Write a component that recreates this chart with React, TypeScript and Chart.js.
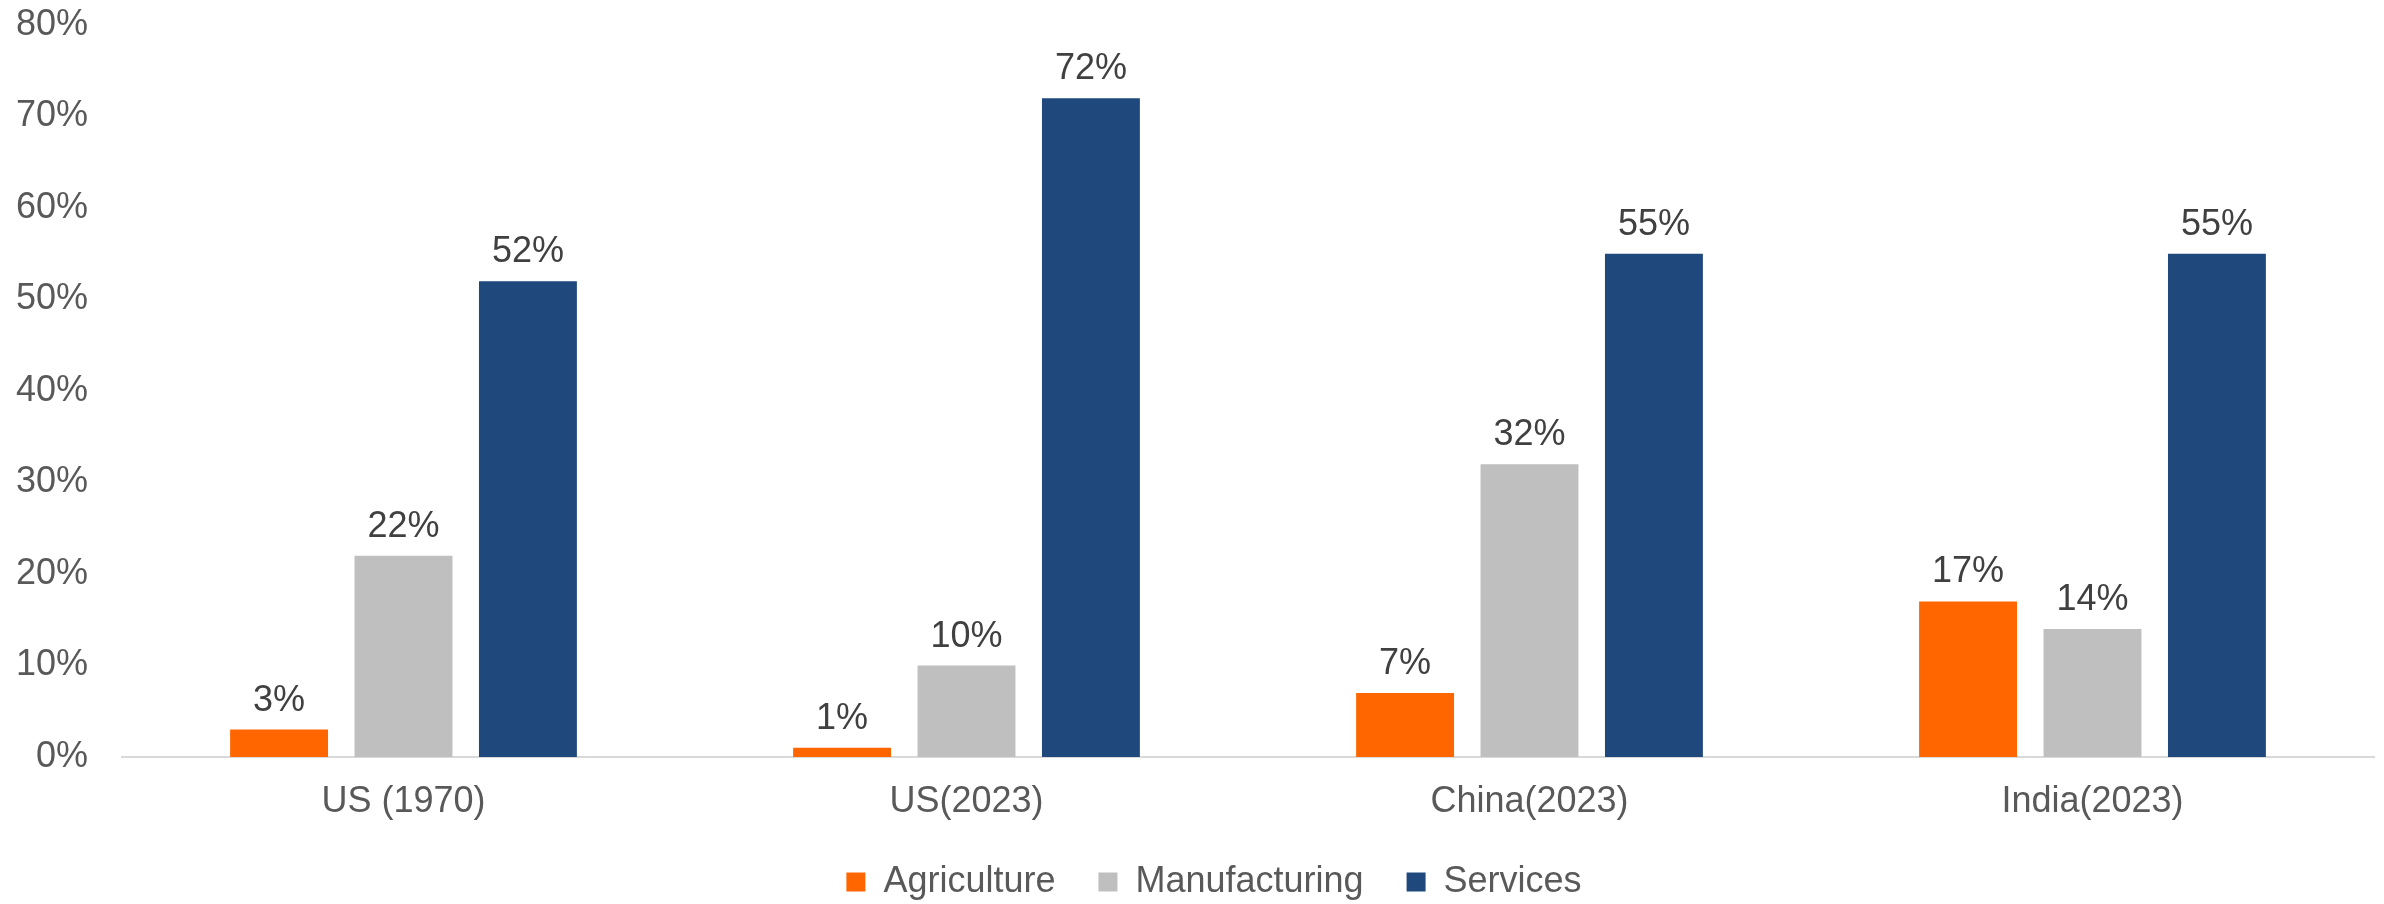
import React, { useEffect, useRef } from "react";
import { Chart, registerables } from "chart.js";

Chart.register(...registerables);

const categories = ["US (1970)", "US(2023)", "China(2023)", "India(2023)"];
const agriculture = [3, 1, 7, 17];
const manufacturing = [22, 10, 32, 14];
const services = [52, 72, 55, 55];
const seriesNames = ["Agriculture", "Manufacturing", "Services"];
const seriesColors = ["#FF6600", "#BFBFBF", "#1F497D"];
const yTicks = [0, 10, 20, 30, 40, 50, 60, 70, 80];

const FONT = "'Liberation Sans', Arial, sans-serif";

const valueLabels = {
  id: "valueLabels",
  afterDatasetsDraw(chart: any) {
    const ctx = chart.ctx;
    ctx.save();
    ctx.font = `36px ${FONT}`;
    ctx.fillStyle = "#404040";
    ctx.textAlign = "center";
    ctx.textBaseline = "alphabetic";
    chart.data.datasets.forEach((ds: any, i: number) => {
      const meta = chart.getDatasetMeta(i);
      meta.data.forEach((bar: any, j: number) => {
        ctx.fillText(`${ds.data[j]}%`, bar.x, bar.y - 19);
      });
    });
    ctx.restore();
  },
};

const legendShift = {
  id: "legendShift",
  afterLayout(chart: any) {
    if (chart.legend) {
      chart.legend.left += 19;
      chart.legend.right += 19;
    }
  },
};

export default function App() {
  const ref = useRef<HTMLCanvasElement>(null);
  useEffect(() => {
    if (!ref.current) return;
    const data = [agriculture, manufacturing, services];
    const chart = new Chart(ref.current, {
      type: "bar",
      data: {
        labels: categories,
        datasets: seriesNames.map((name, i) => ({
          label: name,
          data: data[i],
          backgroundColor: seriesColors[i],
          borderWidth: 0,
          categoryPercentage: 0.663,
          barPercentage: 0.787,
        })),
      },
      options: {
        responsive: false,
        animation: false,
        devicePixelRatio: 1,
        layout: { padding: { left: 16, right: 10, top: 25, bottom: 0 } },
        plugins: {
          legend: {
            position: "bottom",
            labels: {
              font: { family: FONT, size: 36 },
              color: "#595959",
              boxWidth: 19,
              boxHeight: 19,
              padding: 43,
            },
          },
          tooltip: { enabled: false },
        },
        scales: {
          x: {
            afterFit: (scale: any) => {
              scale.height = 64;
            },
            grid: { display: false, drawTicks: false },
            border: { display: true, color: "#D9D9D9", width: 2 },
            ticks: {
              font: { family: FONT, size: 36 },
              color: "#595959",
              padding: 23,
            },
          },
          y: {
            min: 0,
            max: 80,
            afterBuildTicks: (scale: any) => {
              scale.ticks = yTicks.map((v) => ({ value: v }));
            },
            afterFit: (scale: any) => {
              scale.width = 106;
              scale.paddingTop = 0;
              scale.paddingBottom = 0;
            },
            grid: { display: false, drawTicks: false },
            border: { display: false },
            ticks: {
              font: { family: FONT, size: 36, lineHeight: 1 },
              color: "#595959",
              padding: 34,
              callback: (v: any) => `${v}%`,
            },
          },
        },
      },
      plugins: [valueLabels, legendShift],
    });
    return () => chart.destroy();
  }, []);
  return (
    <div style={{ position: "absolute", left: 0, top: 0, width: 2384, height: 904, overflow: "hidden", background: "#fff" }}>
      <canvas ref={ref} width={2384} height={910} style={{ display: "block" }} />
    </div>
  );
}
